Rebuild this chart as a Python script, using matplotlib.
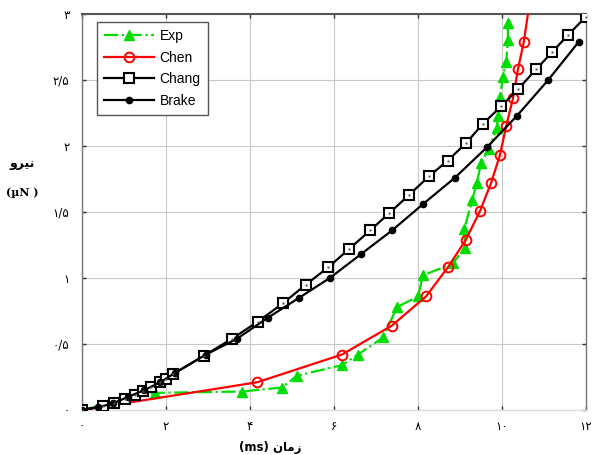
import matplotlib
matplotlib.use("Agg")
import matplotlib.pyplot as plt

# ---------------- data ----------------
exp_x = [0, 1.74, 3.81, 4.76, 5.12, 6.19, 6.57, 7.17, 7.50, 8.00, 8.12, 8.83, 9.12,
         9.10, 9.29, 9.40, 9.50, 9.69, 9.88, 9.90, 9.95, 10.02, 10.10, 10.14, 10.14]
exp_y = [0, 0.13, 0.14, 0.17, 0.26, 0.34, 0.42, 0.55, 0.78, 0.86, 1.02, 1.11, 1.23,
         1.37, 1.59, 1.72, 1.87, 1.98, 2.14, 2.23, 2.37, 2.52, 2.64, 2.80, 2.93]

chen_x = [0, 4.17, 6.19, 7.38, 8.19, 8.71, 9.14, 9.48, 9.74, 9.95, 10.10, 10.26,
          10.38, 10.52, 10.64]
chen_y = [0, 0.21, 0.42, 0.64, 0.86, 1.08, 1.29, 1.51, 1.72, 1.93, 2.15, 2.36,
          2.58, 2.79, 3.05]

chang_x = [0, 0.50, 0.76, 1.02, 1.26, 1.45, 1.64, 1.86, 2.00, 2.17, 2.90, 3.57,
           4.19, 4.79, 5.33, 5.86, 6.36, 6.86, 7.31, 7.79, 8.26, 8.71, 9.14, 9.55,
           9.98, 10.38, 10.81, 11.19, 11.57, 12.0]
chang_y = [0, 0.03, 0.053, 0.083, 0.114, 0.144, 0.174, 0.212, 0.235, 0.273, 0.41,
           0.54, 0.67, 0.81, 0.95, 1.08, 1.22, 1.36, 1.49, 1.63, 1.77, 1.89, 2.02,
           2.17, 2.30, 2.43, 2.58, 2.71, 2.84, 2.98]

brake_x = [0, 0.38, 0.74, 1.10, 1.48, 1.86, 2.21, 2.95, 3.69, 4.43, 5.17, 5.90,
           6.64, 7.38, 8.12, 8.88, 9.64, 10.36, 11.10, 11.83]
brake_y = [0, 0.02, 0.05, 0.10, 0.15, 0.21, 0.28, 0.42, 0.54, 0.70, 0.85, 1.00,
           1.18, 1.36, 1.56, 1.76, 1.99, 2.23, 2.50, 2.79]

series_names = ["Exp", "Chen", "Chang", "Brake"]

x_ticks = [0, 2, 4, 6, 8, 10, 12]
x_tick_labels = ["۰", "۲", "۴", "۶", "۸", "۱۰", "۱۲"]
y_ticks = [0, 0.5, 1, 1.5, 2, 2.5, 3]
y_tick_labels = ["۰", "۰/۵", "۱", "۱/۵", "۲", "۲/۵", "۳"]

y_title = "نیرو"
y_unit = "(µN )"
x_title = "زمان (ms)"

# ---------------- minimal Persian shaping for display ----------------
FORMS = {  # iso, fin, ini, med  (None -> right-joining only)
    "ن": ("\uFEE5", "\uFEE6", "\uFEE7", "\uFEE8"),
    "ی": ("\uFBFC", "\uFBFD", "\uFBFE", "\uFBFF"),
    "م": ("\uFEE1", "\uFEE2", "\uFEE3", "\uFEE4"),
    "ر": ("\uFEAD", "\uFEAE", None, None),
    "و": ("\uFEED", "\uFEEE", None, None),
    "ز": ("\uFEAF", "\uFEB0", None, None),
    "ا": ("\uFE8D", "\uFE8E", None, None),
}


def shape_word(w):
    out = []
    for i, c in enumerate(w):
        if c not in FORMS:
            out.append(c)
            continue
        f = FORMS[c]
        prev = w[i - 1] if i > 0 else None
        nxt = w[i + 1] if i + 1 < len(w) else None
        pj = prev in FORMS and FORMS[prev][2] is not None
        nj = nxt in FORMS and f[2] is not None
        if pj and nj:
            out.append(f[3])
        elif pj:
            out.append(f[1])
        elif nj:
            out.append(f[2])
        else:
            out.append(f[0])
    return "".join(reversed(out))


def visual(s):
    words = s.split(" ")
    res = []
    for w in reversed(words):
        if any(ch in FORMS for ch in w):
            res.append(shape_word(w))
        else:
            res.append(w)
    return " ".join(res)


# ---------------- figure ----------------
fig = plt.figure(figsize=(5.92, 4.55), dpi=100)
ax = fig.add_axes([82 / 592, 1 - 410 / 455, 504 / 592, 396 / 455])

ax.plot(exp_x, exp_y, color="#00dd00", ls="-.", lw=1.6, marker="^", ms=6.5,
        mfc="#00dd00", mec="#00dd00", label=series_names[0], zorder=3)
ax.plot(chen_x, chen_y, color="#ff0000", ls="-", lw=1.6, marker="o", ms=7,
        mfc="none", mec="#ff0000", mew=1.4, markevery=list(range(1, len(chen_x) - 1)),
        label=series_names[1], zorder=4)
ax.plot(chang_x, chang_y, color="black", ls="-", lw=1.6, marker="s", ms=7,
        mfc="white", mec="black", mew=1.5, label=series_names[2], zorder=5)
ax.plot(chang_x, chang_y, ls="none", marker="s", ms=2, mfc="#555555", mec="none",
        zorder=6)
ax.plot(brake_x, brake_y, color="black", ls="-", lw=1.6, marker="o", ms=4.5,
        mfc="black", mec="black", label=series_names[3], zorder=5)

ax.set_xlim(0, 12)
ax.set_ylim(0, 3)
ax.set_xticks(x_ticks)
ax.set_xticklabels(x_tick_labels, family="DejaVu Sans", fontsize=8.5)
ax.set_yticks(y_ticks)
ax.set_yticklabels(y_tick_labels, family="DejaVu Sans", fontsize=8.5)
ax.tick_params(direction="in", length=3, width=1, top=True, right=True,
               colors="#333333", labelcolor="black")
ax.tick_params(axis="x", pad=7)
ax.tick_params(axis="y", pad=9)
ax.grid(True, color="#c8c8c8", lw=0.8)
for side, sp in ax.spines.items():
    sp.set_color("#777777")
    sp.set_linewidth(1.0)
ax.spines["top"].set_color("#555555")
ax.spines["top"].set_linewidth(1.5)
ax.spines["bottom"].set_color("#dddddd")

leg = ax.legend(loc="upper left", bbox_to_anchor=(0.03, 0.98), borderaxespad=0,
                prop={"family": "Liberation Sans", "size": 10}, fancybox=False,
                frameon=True, handlelength=3.6, labelspacing=0.55,
                handletextpad=0.4, borderpad=0.5, framealpha=1)
leg.get_frame().set_edgecolor("#555555")
leg.get_frame().set_linewidth(1.0)

fig.text(22 / 592, 1 - 163 / 455, visual(y_title), family="DejaVu Sans",
         fontweight="bold", fontsize=9, ha="center", va="center")
fig.text(22 / 592, 1 - 193 / 455, y_unit, family="DejaVu Serif",
         fontweight="bold", fontsize=8, ha="center", va="center")
fig.text(270 / 592, 1 - 447 / 455, visual(x_title), family="DejaVu Sans",
         fontweight="bold", fontsize=8.5, ha="center", va="center")

fig.savefig("out.png", dpi=100)
